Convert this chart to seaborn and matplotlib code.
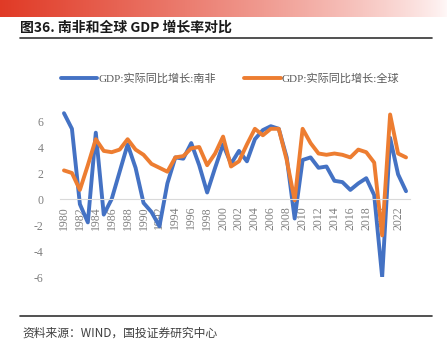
import numpy as np
import pandas as pd
import matplotlib
matplotlib.use("Agg")
import matplotlib.pyplot as plt
import seaborn as sns

# data
years = list(range(1980, 2024))
sa_growth = [6.6, 5.4, -0.4, -1.8, 5.1, -1.2, 0.0, 2.1, 4.2, 2.4,
             -0.3, -1.0, -2.1, 1.2, 3.2, 3.1, 4.3, 2.6, 0.5, 2.4,
             4.2, 2.7, 3.7, 2.9, 4.6, 5.3, 5.6, 5.4, 3.2, -1.5,
             3.0, 3.2, 2.4, 2.5, 1.4, 1.3, 0.7, 1.2, 1.6, 0.3,
             -6.0, 4.7, 1.9, 0.6]
world_growth = [2.2, 2.0, 0.7, 2.6, 4.6, 3.7, 3.6, 3.8, 4.6, 3.8,
                3.4, 2.7, 2.4, 2.1, 3.2, 3.3, 3.9, 4.0, 2.6, 3.5,
                4.8, 2.5, 2.9, 4.2, 5.4, 4.9, 5.4, 5.4, 3.0, -0.1,
                5.4, 4.3, 3.5, 3.4, 3.5, 3.4, 3.2, 3.8, 3.6, 2.8,
                -2.8, 6.5, 3.5, 3.2]
series_names = ["GDP:实际同比增长:南非", "GDP:实际同比增长:全球"]
series_colors = ["#4472C4", "#ED7D31"]
y_ticks = [-6, -4, -2, 0, 2, 4, 6]

df = pd.DataFrame({
    "year": years * 2,
    "value": sa_growth + world_growth,
    "series": [series_names[0]] * len(years) + [series_names[1]] * len(years),
})

sns.set_style("white")
plt.rcParams["font.family"] = ["Liberation Serif", "Noto Sans CJK SC", "DejaVu Sans"]

fig = plt.figure(figsize=(4.47, 3.54), dpi=100)

# red gradient banner on top
band = fig.add_axes([0, 1 - 17 / 354, 1, 17 / 354])
grad = np.linspace(0, 1, 256)
left = np.array([0.88, 0.23, 0.15])
right = np.array([1.0, 0.97, 0.97])
img = left[None, :] * (1 - grad[:, None]) ** 0.8 + right[None, :] * (1 - (1 - grad[:, None]) ** 0.8)
band.imshow(img[None, :, :], aspect="auto", extent=[0, 1, 0, 1])
band.axis("off")

fig.text(20 / 447, 1 - 28 / 354, "图36. 南非和全球 GDP 增长率对比",
         family=["Noto Sans CJK SC", "DejaVu Sans"], fontweight="bold",
         fontsize=10, va="center", ha="left", color="#1a1a1a")
fig.add_artist(plt.Line2D([20 / 447, 432 / 447], [1 - 38 / 354, 1 - 38 / 354],
                          color="#333333", lw=1.2))

ax = fig.add_axes([60 / 447, 77 / 354, 350 / 447, 182 / 354])
sns.lineplot(data=df, x="year", y="value", hue="series", palette=series_colors,
             linewidth=2.8, ax=ax, legend=False)

ax.set_xlim(1979.5, 2023.5)
ax.set_ylim(-6, 8)
for side in ["top", "right", "left"]:
    ax.spines[side].set_visible(False)
ax.spines["bottom"].set_position(("data", 0))
ax.spines["bottom"].set_color("#d9d9d9")

ax.set_yticks(y_ticks)
ax.set_yticklabels([str(v) for v in y_ticks])
ax.set_xticks(years[::2])
ax.set_xticklabels([str(y) for y in years[::2]])
ax.tick_params(axis="x", length=3, color="#d9d9d9", pad=2, labelrotation=90,
               labelsize=8.5, labelcolor="#7f7f7f")
ax.tick_params(axis="y", length=0, pad=12, labelsize=8.5, labelcolor="#7f7f7f")
ax.set_xlabel("")
ax.set_ylabel("")
ax.grid(False)

# legend
handles = [plt.Line2D([], [], color=c, lw=2.8) for c in series_colors]
fig.legend(handles, series_names, loc="center", ncol=2, frameon=False,
           bbox_to_anchor=(230 / 447, 1 - 79 / 354), fontsize=8,
           handlelength=3.3, handletextpad=0.1, columnspacing=2.5,
           labelcolor="#595959")

fig.add_artist(plt.Line2D([20 / 447, 432 / 447], [1 - 316 / 354, 1 - 316 / 354],
                          color="#333333", lw=1.2))
fig.text(22 / 447, 1 - 333 / 354, "资料来源：WIND，国投证券研究中心",
         family=["Noto Sans CJK SC", "DejaVu Sans"], style="italic",
         fontsize=8.5, va="center", ha="left", color="#404040")

fig.savefig("out.png", dpi=100)
